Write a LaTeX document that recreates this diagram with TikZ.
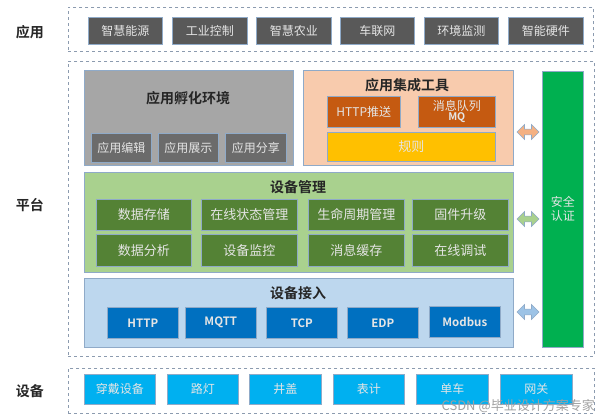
\documentclass[tikz,border=0pt]{standalone}
\usepackage{fontspec}
\setmainfont{Noto Sans CJK SC}[BoldFont={Noto Sans CJK SC Bold}]
\usetikzlibrary{shapes.arrows}
\definecolor{appdark}{HTML}{595959}
\definecolor{edgeblue}{HTML}{8FAAC8}
\definecolor{incgray}{HTML}{A6A6A6}
\definecolor{subgray}{HTML}{6B6B6B}
\definecolor{peach}{HTML}{F8CBAD}
\definecolor{orng}{HTML}{C55A11}
\definecolor{yel}{HTML}{FFC000}
\definecolor{lgreen}{HTML}{A9D18E}
\definecolor{dgreen}{HTML}{548235}
\definecolor{lblue}{HTML}{BDD7EE}
\definecolor{dblue}{HTML}{0070C0}
\definecolor{bgreen}{HTML}{00B050}
\definecolor{cyanb}{HTML}{00B0F0}
\definecolor{arrpeach}{HTML}{F4B183}
\definecolor{arrblue}{HTML}{9DC3E6}
\definecolor{dashgray}{HTML}{8C9BAF}
\definecolor{wm}{HTML}{A0A0A0}
\newcommand\bx[7]{\node[#6, anchor=north west, minimum width={(#4)-(#2)}, minimum height={(#5)-(#3)}] (#1) at (#2,#3) {#7};}
\tikzset{
  base/.style={draw=edgeblue, line width=0.6pt, inner sep=0pt, font=\fontsize{12}{14}\selectfont, text=white!90!black},
  appbox/.style={base, fill=appdark},
  container/.style={draw=dashgray, dashed, line width=0.6pt, inner sep=0pt},
  incbox/.style={base, fill=incgray},
  subbox/.style={base, fill=subgray},
  peachbox/.style={base, fill=peach},
  orbox/.style={base, fill=orng, align=center},
  yelbox/.style={base, fill=yel, font=\fontsize{13}{15}\selectfont},
  lgbox/.style={base, fill=lgreen},
  dgbox/.style={base, fill=dgreen, font=\fontsize{13}{15}\selectfont},
  lbbox/.style={base, fill=lblue},
  dbbox/.style={base, fill=dblue, font=\bfseries\fontsize{11.5}{13}\selectfont},
  secbox/.style={base, fill=bgreen, align=center, font=\fontsize{12}{14}\selectfont},
  devbox/.style={base, fill=cyanb},
  title/.style={font=\bfseries\fontsize{14}{16}\selectfont, text=black!85, inner sep=0pt},
  sidelabel/.style={font=\bfseries\fontsize{14}{16}\selectfont, text=black!85, inner sep=0pt},
  darr/.style={double arrow, draw=edgeblue, line width=0.6pt, minimum height=22pt, minimum width=15pt, double arrow head extend=3pt, inner sep=1.5pt}
}
\begin{document}
\begin{tikzpicture}[x=1pt,y=-1pt]
\useasboundingbox (0,0) rectangle (600,420);
% side labels
\node[sidelabel] (lapp) at (30,32) {应用};
\node[sidelabel] (lplat) at (30,205) {平台};
\node[sidelabel] (ldev) at (30,391) {设备};
% application layer
\bx{appc}{68}{7}{593}{51}{container}{}
\bx{a1}{88}{17}{162}{44}{appbox}{智慧能源}
\bx{a2}{172}{17}{247}{44}{appbox}{工业控制}
\bx{a3}{256}{17}{331}{44}{appbox}{智慧农业}
\bx{a4}{340}{17}{414}{44}{appbox}{车联网}
\bx{a5}{424}{17}{498}{44}{appbox}{环境监测}
\bx{a6}{508}{17}{583}{44}{appbox}{智能硬件}
% platform
\bx{platc}{68}{61}{594}{356}{container}{}
\bx{inc}{84}{70}{293}{165}{incbox}{}
\node[title] (inct) at (188,98) {应用孵化环境};
\bx{i1}{91}{133}{151}{162}{subbox}{应用编辑}
\bx{i2}{158}{133}{218}{162}{subbox}{应用展示}
\bx{i3}{225}{133}{286}{162}{subbox}{应用分享}
\bx{intg}{303}{70}{513}{165}{peachbox}{}
\node[title] (intgt) at (407,85) {应用集成工具};
\bx{o1}{327}{96}{400}{127}{orbox}{HTTP推送}
\bx{o2}{418}{96}{495}{127}{orbox}{消息队列\\[-4pt]{\bfseries\fontsize{10.5}{12}\selectfont MQ}}
\bx{rule}{327}{132}{495}{161}{yelbox}{规则}
\bx{mgmt}{84}{172}{513}{272}{lgbox}{}
\node[title] (mgmtt) at (298,187) {设备管理};
\bx{m1}{96}{199}{191}{230}{dgbox}{数据存储}
\bx{m2}{201}{199}{297}{230}{dgbox}{在线状态管理}
\bx{m3}{308}{199}{404}{230}{dgbox}{生命周期管理}
\bx{m4}{412}{199}{508}{230}{dgbox}{固件升级}
\bx{m5}{96}{234}{191}{266}{dgbox}{数据分析}
\bx{m6}{201}{234}{297}{266}{dgbox}{设备监控}
\bx{m7}{308}{234}{404}{266}{dgbox}{消息缓存}
\bx{m8}{412}{234}{508}{266}{dgbox}{在线调试}
\bx{acc}{84}{278}{513}{347}{lbbox}{}
\node[title] (acct) at (298,293) {设备接入};
\bx{p1}{107}{307}{178}{338}{dbbox}{HTTP}
\bx{p2}{185}{307}{256}{338}{dbbox}{MQTT}
\bx{p3}{266}{307}{337}{338}{dbbox}{TCP}
\bx{p4}{347}{307}{418}{338}{dbbox}{EDP}
\bx{p5}{429}{306}{500}{337}{dbbox}{Modbus}
\bx{sec}{542}{71}{583}{347}{secbox}{安全\\认证}
% double arrows
\node[darr, fill=arrpeach] (ar1) at (528,132) {};
\node[darr, fill=lgreen] (ar2) at (528,219) {};
\node[darr, fill=arrblue] (ar3) at (528,312) {};
% devices
\bx{devc}{68}{368}{594}{413}{container}{}
\bx{d1}{84}{374}{155}{404}{devbox}{穿戴设备}
\bx{d2}{167}{374}{238}{404}{devbox}{路灯}
\bx{d3}{249}{374}{321}{404}{devbox}{井盖}
\bx{d4}{333}{374}{404}{404}{devbox}{表计}
\bx{d5}{416}{374}{488}{404}{devbox}{单车}
\bx{d6}{500}{374}{572}{404}{devbox}{网关}
\node[text=wm, font=\fontsize{13}{15}\selectfont, inner sep=0pt, anchor=east] (wmark) at (595,406) {CSDN @毕业设计方案专家};
\end{tikzpicture}
\end{document}
